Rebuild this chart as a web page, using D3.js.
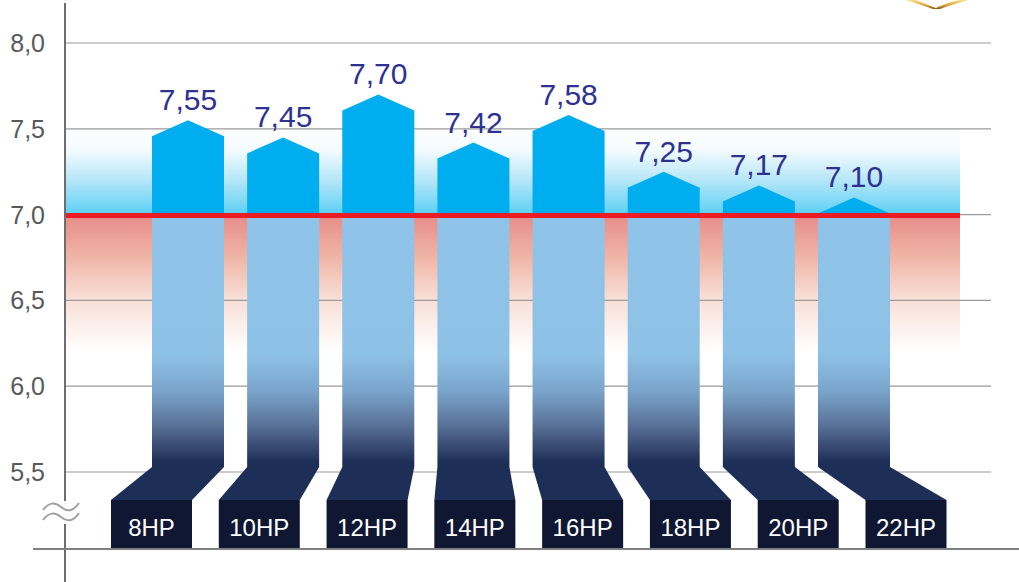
<!DOCTYPE html>
<html>
<head>
<meta charset="utf-8">
<script src="https://cdn.jsdelivr.net/npm/d3@7"></script>
<style>
  html, body { margin: 0; padding: 0; background: #fff; }
  svg { display: block; }
  text { font-family: "Liberation Sans", Arial, Helvetica, sans-serif; }
</style>
</head>
<body>
<svg id="chart" width="1019" height="582"></svg>
<script>
// ---- data ----
const categories = ["8HP", "10HP", "12HP", "14HP", "16HP", "18HP", "20HP", "22HP"];
const values = [7.55, 7.45, 7.70, 7.42, 7.58, 7.25, 7.17, 7.10];
const yTicks = [5.5, 6.0, 6.5, 7.0, 7.5, 8.0];
const threshold = 7.0;

// ---- layout ----
const W = 1019, H = 582;
const axisX = 65, bandRight = 960, gridRight = 991;
const baseY = 549;
const barW = 72, boxW = 81, shoulder = 16;

const svg = d3.select("#chart");
const locale = d3.formatLocale({ decimal: ",", thousands: ".", grouping: [3], currency: ["", ""] });
const fmt1 = locale.format(".1f");
const fmt2 = locale.format(".2f");

const y = d3.scaleLinear().domain([5.5, 8.0]).range([472, 43]);
const xBar = d3.scalePoint().domain(categories).range([188, 854]);
const xBox = d3.scalePoint().domain(categories).range([151.5, 906]);

const defs = svg.append("defs");
const y7 = y(threshold);
const barBottom = 467, boxTop = 500;

function vgrad(id, y1, y2, stops) {
  const g = defs.append("linearGradient").attr("id", id)
    .attr("gradientUnits", "userSpaceOnUse")
    .attr("x1", 0).attr("x2", 0).attr("y1", y1).attr("y2", y2);
  stops.forEach(s => g.append("stop").attr("offset", s[0]).attr("stop-color", s[1]));
}
vgrad("blueBand", y(7.5), y7, [[0, "#ffffff"], [0.25, "#f3fbfe"], [0.6, "#b5e6f8"], [1, "#5ccff5"]]);
vgrad("redBand", y7, y(6.2), [[0, "#e78b88"], [0.3, "#efb3a5"], [0.6, "#f8ddd4"], [0.85, "#fcf2ef"], [1, "#ffffff"]]);
vgrad("lowerBar", y7, barBottom, [[0, "#8fc3e8"], [0.55, "#8ec1e6"], [0.7, "#7aa4cb"], [0.83, "#5a7399"], [0.93, "#34456e"], [0.98, "#1d2e57"], [1, "#1d2e57"]]);
vgrad("gold", 0, 9, [[0, "#fbe08a"], [0.55, "#dcaa40"], [1, "#8a5a12"]]);

// ---- background bands ----
svg.append("rect").attr("x", axisX).attr("y", y(7.5)).attr("width", bandRight - axisX)
  .attr("height", y7 - y(7.5)).attr("fill", "url(#blueBand)");
svg.append("rect").attr("x", axisX).attr("y", y7).attr("width", bandRight - axisX)
  .attr("height", y(6.2) - y7).attr("fill", "url(#redBand)");

// ---- gridlines ----
svg.append("g").selectAll("line").data(yTicks).join("line")
  .attr("x1", axisX).attr("x2", gridRight)
  .attr("y1", d => y(d)).attr("y2", d => y(d))
  .attr("stroke", "#9a9a9a").attr("stroke-width", 1.2);

// ---- bars ----
const bars = svg.append("g").selectAll("g").data(categories).join("g");

// lower (below threshold) part
bars.append("rect")
  .attr("x", d => xBar(d) - barW / 2).attr("y", y7)
  .attr("width", barW).attr("height", barBottom - y7)
  .attr("fill", "url(#lowerBar)");

// slanted connector
bars.append("path")
  .attr("d", d => {
    const a = xBar(d), b = xBox(d);
    return `M${a - barW / 2},${barBottom}L${a + barW / 2},${barBottom}L${b + boxW / 2},${boxTop}L${b - boxW / 2},${boxTop}Z`;
  })
  .attr("fill", "#1d2e57");

// label box
bars.append("rect")
  .attr("x", d => xBox(d) - boxW / 2).attr("y", boxTop)
  .attr("width", boxW).attr("height", baseY - boxTop)
  .attr("fill", "#101733");
bars.append("text")
  .attr("x", d => xBox(d)).attr("y", 536)
  .attr("text-anchor", "middle").attr("fill", "#ffffff")
  .attr("font-size", 24).text(d => d);

// upper (above threshold) part with arrow-like top
bars.append("path")
  .attr("d", (d, i) => {
    const c = xBar(d), top = y(values[i]);
    return `M${c - barW / 2},${y7}L${c - barW / 2},${top + shoulder}L${c},${top}L${c + barW / 2},${top + shoulder}L${c + barW / 2},${y7}Z`;
  })
  .attr("fill", "#00aeef");

// value labels
bars.append("text")
  .attr("x", d => xBar(d)).attr("y", (d, i) => y(values[i]) - 10)
  .attr("text-anchor", "middle").attr("fill", "#2e3192")
  .attr("font-size", 30).text((d, i) => fmt2(values[i]));

// ---- threshold line ----
svg.append("line").attr("x1", axisX).attr("x2", bandRight)
  .attr("y1", y7 + 1).attr("y2", y7 + 1)
  .attr("stroke", "#ec1c24").attr("stroke-width", 5);

// ---- axes ----
svg.append("line").attr("x1", axisX).attr("x2", axisX).attr("y1", 3).attr("y2", H)
  .attr("stroke", "#6d6e71").attr("stroke-width", 2);
svg.append("line").attr("x1", 33).attr("x2", W).attr("y1", baseY).attr("y2", baseY)
  .attr("stroke", "#808080").attr("stroke-width", 2);

svg.append("g").selectAll("text").data(yTicks).join("text")
  .attr("x", 45).attr("y", d => y(d) + 9)
  .attr("text-anchor", "end").attr("fill", "#58595b")
  .attr("font-size", 25).text(d => fmt1(d));

// axis break symbol
svg.append("rect").attr("x", 58).attr("y", 501).attr("width", 14).attr("height", 23).attr("fill", "#fff");
[0, 10].forEach(off => {
  svg.append("path")
    .attr("d", `M43,${510 + off} C49,${502 + off} 55,${502 + off} 61,${507 + off} S73,${512 + off} 79,${503 + off}`)
    .attr("fill", "none").attr("stroke", "#a0a0a0").attr("stroke-width", 2);
});

// decorative gold ornament (top right, clipped)
svg.append("path")
  .attr("d", "M906,0 L916,0 C924,3 930,6 936,8 C942,5 952,1 960,0 L968,0 C958,3 948,6 940,9 L933,9 C925,6 915,3 906,0 Z")
  .attr("fill", "url(#gold)");
</script>
</body>
</html>
